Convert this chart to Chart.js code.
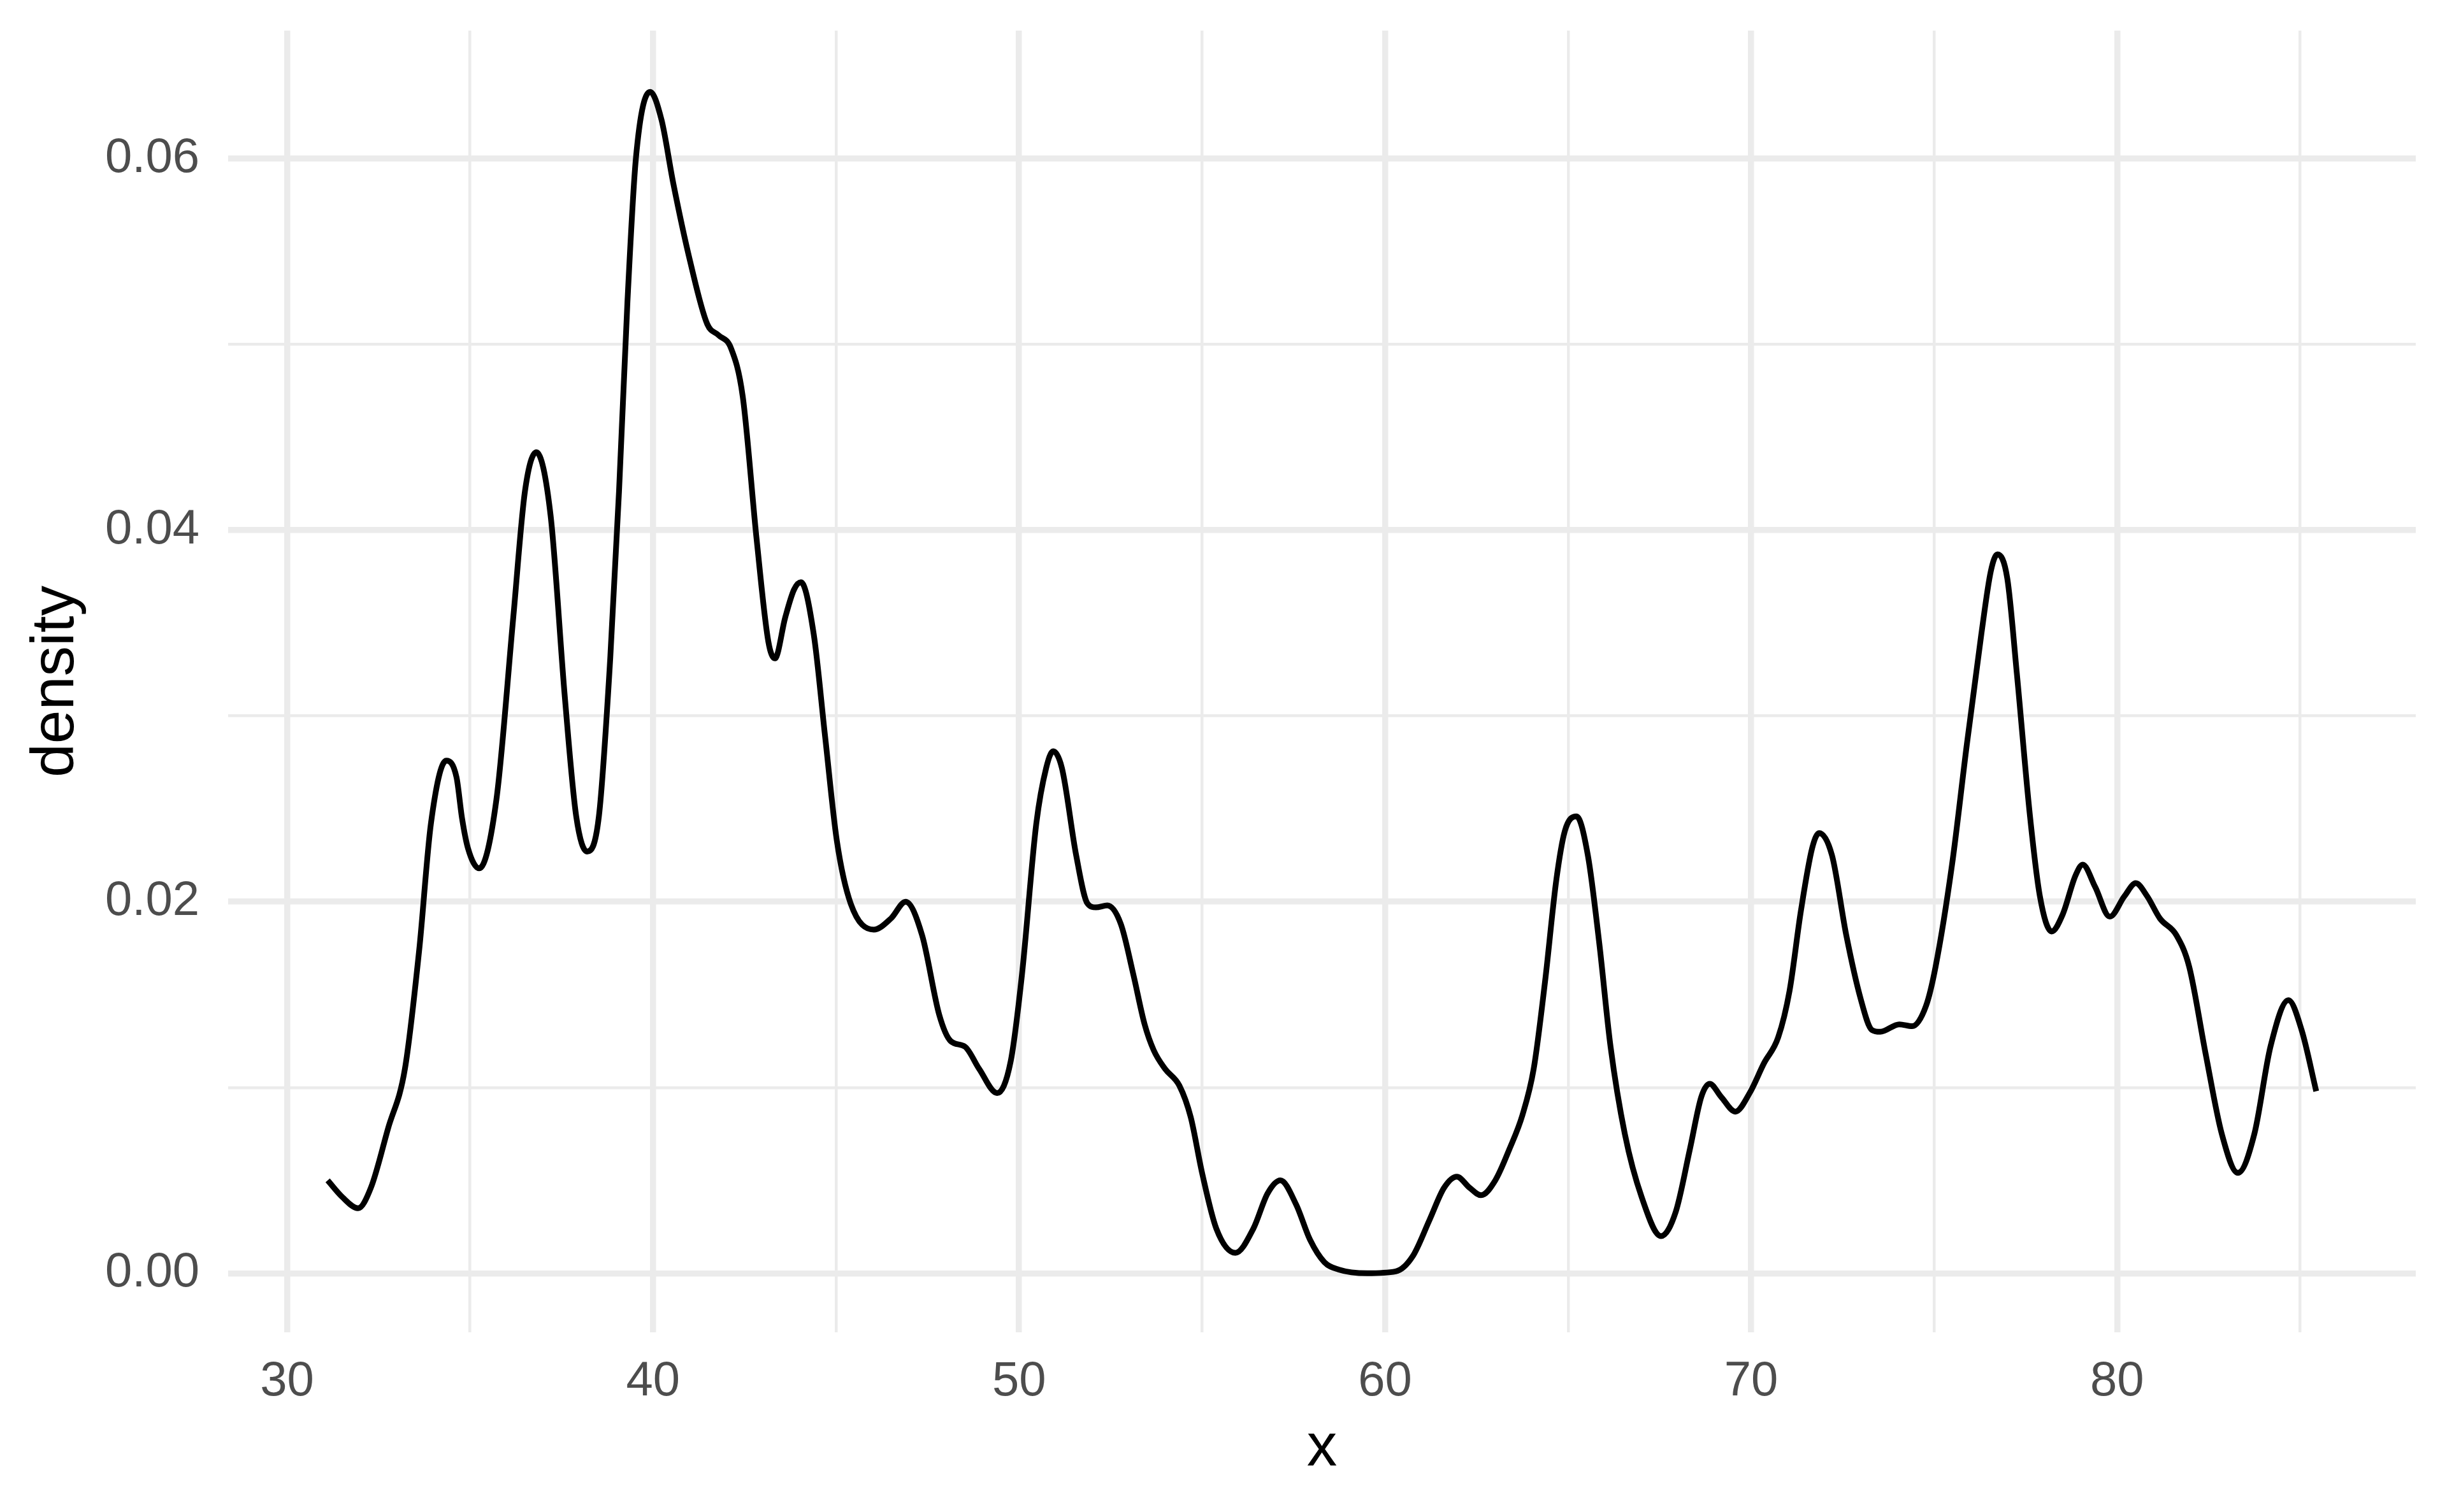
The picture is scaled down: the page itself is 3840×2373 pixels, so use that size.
<!DOCTYPE html>
<html>
<head>
<meta charset="utf-8">
<title>density</title>
<script src="https://cdn.jsdelivr.net/npm/chart.js@4/dist/chart.umd.min.js"></script>
<style>
  html, body { margin: 0; padding: 0; background: #ffffff; overflow: hidden; }
  canvas { display: block; }
</style>
</head>
<body>
<canvas id="chart" width="3840" height="2373"></canvas>
<script>
// density curve
const xValues = [
  31.11, 31.51, 31.94, 32.29, 32.76, 33.22, 33.61, 33.93, 34.35, 34.63,
  34.78, 34.94, 35.25, 35.72, 36.18, 36.50, 36.81, 37.20, 37.59, 37.90,
  38.20, 38.52, 38.83, 39.07, 39.30, 39.53, 39.92, 40.23, 40.55, 41.01,
  41.48, 41.79, 42.13, 42.45, 42.83, 43.15, 43.33, 43.61, 43.85, 44.04,
  44.39, 44.70, 45.02, 45.40, 46.03, 46.50, 46.90, 47.35, 47.82, 48.13,
  48.52, 48.91, 49.40, 49.77, 50.08, 50.47, 50.74, 50.93, 51.17, 51.56,
  51.87, 52.10, 52.41, 52.78, 53.12, 53.43, 53.68, 53.99, 54.38, 54.69,
  55.00, 55.39, 55.91, 56.40, 56.79, 57.14, 57.57, 57.95, 58.34, 58.73,
  59.51, 60.29, 60.75, 61.22, 61.61, 61.96, 62.31, 62.62, 63.01, 63.40,
  63.75, 64.06, 64.37, 64.68, 64.91, 65.23, 65.54, 65.85, 66.16, 66.55,
  67.01, 67.54, 67.94, 68.33, 68.64, 68.87, 69.18, 69.57, 69.96, 70.35,
  70.74, 71.05, 71.36, 71.67, 71.86, 72.21, 72.60, 72.99, 73.30, 73.53,
  74.05, 74.40, 74.78, 75.04, 75.49, 75.89, 76.29, 76.55, 76.73, 77.00,
  77.26, 77.62, 77.89, 78.21, 78.51, 78.86, 79.06, 79.40, 79.80, 80.20,
  80.51, 80.82, 81.17, 81.62, 81.97, 82.42, 82.86, 83.30, 83.75, 84.19,
  84.68, 85.04, 85.44
];
const densityValues = [
  0.0050, 0.0041, 0.0035, 0.0046, 0.0078, 0.0110, 0.0174, 0.0242, 0.0276, 0.0267,
  0.0245, 0.0229, 0.0218, 0.0255, 0.0353, 0.0421, 0.0442, 0.0408, 0.0310, 0.0246,
  0.0227, 0.0246, 0.0331, 0.0421, 0.0523, 0.0600, 0.0636, 0.0621, 0.0587, 0.0545,
  0.0511, 0.0505, 0.0498, 0.0472, 0.0395, 0.0340, 0.0331, 0.0353, 0.0368, 0.0372,
  0.0344, 0.0289, 0.0233, 0.0199, 0.0185, 0.0191, 0.0200, 0.0182, 0.0139, 0.0125,
  0.0122, 0.0110, 0.0097, 0.0114, 0.0161, 0.0242, 0.0272, 0.0281, 0.0272, 0.0225,
  0.0199, 0.0197, 0.0198, 0.0188, 0.0161, 0.0134, 0.0120, 0.0110, 0.0101, 0.0084,
  0.0054, 0.0024, 0.0011, 0.0024, 0.0043, 0.0050, 0.0037, 0.0018, 0.0006, 0.0002,
  0.0000, 0.0001, 0.0009, 0.0029, 0.0046, 0.0052, 0.0046, 0.0042, 0.0050, 0.0067,
  0.0085, 0.0110, 0.0157, 0.0212, 0.0238, 0.0246, 0.0225, 0.0178, 0.0122, 0.0075,
  0.0041, 0.0020, 0.0033, 0.0067, 0.0095, 0.0102, 0.0095, 0.0087, 0.0097, 0.0113,
  0.0127, 0.0152, 0.0195, 0.0229, 0.0237, 0.0225, 0.0182, 0.0148, 0.0131, 0.0130,
  0.0134, 0.0133, 0.0144, 0.0165, 0.0220, 0.0284, 0.0344, 0.0378, 0.0387, 0.0374,
  0.0323, 0.0246, 0.0203, 0.0184, 0.0193, 0.0214, 0.0220, 0.0208, 0.0192, 0.0203,
  0.0210, 0.0203, 0.0191, 0.0182, 0.0165, 0.0118, 0.0075, 0.0054, 0.0075, 0.0122,
  0.0147, 0.0131, 0.0098
];

// grid positions (majors carry labels, minors are blank)
const xTicks = [30, 35, 40, 45, 50, 55, 60, 65, 70, 75, 80, 85];
const xMajor = [30, 40, 50, 60, 70, 80];
const yTicks = [0, 0.01, 0.02, 0.03, 0.04, 0.05, 0.06];
const yMajor = [0, 0.02, 0.04, 0.06];

const GRID = '#ebebeb';
const TEXT = '#4d4d4d';
const FONT = '"Liberation Sans", Arial, Helvetica, sans-serif';

function isMajor(list, v) {
  return list.some(m => Math.abs(m - v) < 1e-9);
}

const points = xValues.map((x, i) => ({ x: x, y: densityValues[i] }));

new Chart(document.getElementById('chart'), {
  type: 'line',
  data: {
    datasets: [{
      data: points,
      borderColor: '#000000',
      borderWidth: 9,
      borderJoinStyle: 'round',
      pointRadius: 0,
      cubicInterpolationMode: 'monotone',
      fill: false
    }]
  },
  options: {
    responsive: false,
    devicePixelRatio: 1,
    animation: false,
    parsing: false,
    layout: { padding: { top: 48, right: 49, left: 0, bottom: 0 } },
    plugins: {
      legend: { display: false },
      tooltip: { enabled: false }
    },
    scales: {
      x: {
        type: 'linear',
        min: 28.39,
        max: 88.16,
        afterBuildTicks: s => { s.ticks = xTicks.map(v => ({ value: v })); },
        afterFit: s => { s.height = 282; s.paddingLeft = 0; s.paddingRight = 0; },
        border: { display: false },
        grid: {
          color: GRID,
          drawTicks: false,
          lineWidth: c => (c.tick && isMajor(xMajor, c.tick.value)) ? 9.5 : 4.5
        },
        ticks: {
          autoSkip: false,
          maxRotation: 0,
          padding: 32,
          color: TEXT,
          font: { family: FONT, size: 76 },
          callback: v => isMajor(xMajor, v) ? String(v) : ''
        },
        title: {
          display: true,
          text: 'x',
          color: '#000000',
          font: { family: FONT, size: 95 },
          padding: { top: 0, bottom: 42 }
        }
      },
      y: {
        type: 'linear',
        min: -0.00318,
        max: 0.0669,
        afterBuildTicks: s => { s.ticks = yTicks.map(v => ({ value: v })); },
        afterFit: s => { s.width = 358; s.paddingTop = 0; s.paddingBottom = 0; },
        border: { display: false },
        grid: {
          color: GRID,
          drawTicks: false,
          lineWidth: c => (c.tick && isMajor(yMajor, c.tick.value)) ? 9.5 : 4.5
        },
        ticks: {
          autoSkip: false,
          padding: 45,
          color: TEXT,
          font: { family: FONT, size: 76 },
          callback: v => isMajor(yMajor, v) ? v.toFixed(2) : ''
        },
        title: {
          display: true,
          text: 'density',
          color: '#000000',
          font: { family: FONT, size: 95 },
          padding: { top: 32, bottom: 0 }
        }
      }
    }
  }
});
</script>
</body>
</html>
